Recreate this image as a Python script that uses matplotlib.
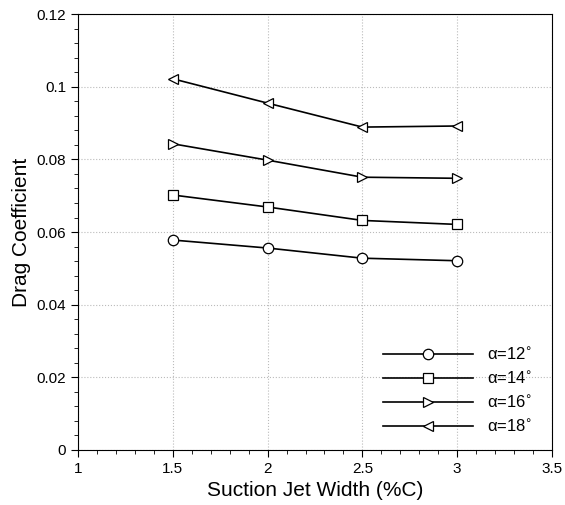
import matplotlib.pyplot as plt
from matplotlib.ticker import MultipleLocator

plt.rcParams['font.family'] = ['Liberation Sans', 'DejaVu Sans']

width = [1.5, 2.0, 2.5, 3.0]
cd_12 = [0.0578, 0.0556, 0.0528, 0.0521]
cd_14 = [0.0702, 0.0669, 0.0632, 0.0621]
cd_16 = [0.0843, 0.0798, 0.0751, 0.0748]
cd_18 = [0.1022, 0.0955, 0.0889, 0.0892]
series = [cd_12, cd_14, cd_16, cd_18]
labels = [r'α=12$^{\circ}$', r'α=14$^{\circ}$', r'α=16$^{\circ}$', r'α=18$^{\circ}$']
markers = ['o', 's', '>', '<']

fig = plt.figure(figsize=(5.65, 5.05), dpi=100)
ax = fig.add_axes([0.138, 0.109, 0.839, 0.863])

for y, lab, m in zip(series, labels, markers):
    ax.plot(width, y, color='black', lw=1.2, marker=m, ms=7.5,
            mfc='white', mec='black', mew=0.9, label=lab)

ax.set_xlim(1, 3.5)
ax.set_ylim(0, 0.12)
ax.xaxis.set_major_locator(MultipleLocator(0.5))
ax.xaxis.set_minor_locator(MultipleLocator(0.1))
ax.yaxis.set_major_locator(MultipleLocator(0.02))
ax.yaxis.set_minor_locator(MultipleLocator(0.004))
ax.xaxis.set_major_formatter(plt.FuncFormatter(lambda v, p: ('%g' % v)))
ax.yaxis.set_major_formatter(plt.FuncFormatter(lambda v, p: ('%g' % round(v, 3))))
ax.tick_params(which='both', direction='out', top=False, right=False, labelsize=11)
ax.tick_params(which='major', length=5)
ax.tick_params(which='minor', length=3)
ax.grid(True, which='major', ls=':', color='#bbbbbb', lw=0.8)

ax.set_xlabel('Suction Jet Width (%C)', fontsize=15)
ax.set_ylabel('Drag Coefficient', fontsize=15)

ax.legend(loc='lower right', bbox_to_anchor=(0.99, 0.0), frameon=False,
          handlelength=5.4, numpoints=1, fontsize=12, labelspacing=0.42)

fig.savefig('out.png', dpi=100)
